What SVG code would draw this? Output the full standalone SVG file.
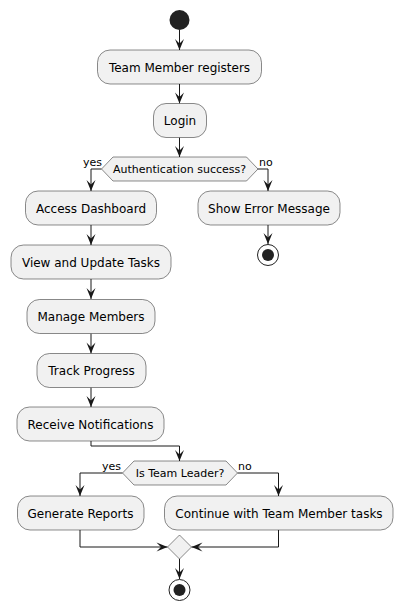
<svg xmlns="http://www.w3.org/2000/svg" width="403" height="611" viewBox="0 0 403 611">
<defs>
<style>
.box{fill:#F1F1F1;stroke:#181818;stroke-width:0.5}
.t{font-family:"DejaVu Sans",sans-serif;font-size:12px;fill:#000;text-anchor:middle}
.d{font-family:"DejaVu Sans",sans-serif;font-size:11px;fill:#000;text-anchor:middle}
.lbl{font-family:"DejaVu Sans",sans-serif;font-size:11px;fill:#000}
.c{fill:none;stroke:#181818;stroke-width:1}
</style>
<marker id="ah" markerUnits="userSpaceOnUse" markerWidth="11" markerHeight="9" refX="11" refY="4.5" orient="auto" overflow="visible">
<path d="M0,0 L11,4.5 L0,9 L4.5,4.5 Z" fill="#181818"/>
</marker>
</defs>
<rect width="403" height="611" fill="#FFFFFF"/>
<g id="connectors">
<path class="c" d="M179.5,30 V50" marker-end="url(#ah)"/>
<path class="c" d="M179.5,84 V103.5" marker-end="url(#ah)"/>
<path class="c" d="M179.5,137.5 V157" marker-end="url(#ah)"/>
<path class="c" d="M101.5,169 H91 V191" marker-end="url(#ah)"/>
<path class="c" d="M257.5,169 H268 V191" marker-end="url(#ah)"/>
<path class="c" d="M268,225 V244" marker-end="url(#ah)"/>
<path class="c" d="M91,225 V245" marker-end="url(#ah)"/>
<path class="c" d="M91,279 V299" marker-end="url(#ah)"/>
<path class="c" d="M91,333.5 V353.5" marker-end="url(#ah)"/>
<path class="c" d="M91,387.5 V407" marker-end="url(#ah)"/>
<path class="c" d="M91,441 V446 H179.5 V461" marker-end="url(#ah)"/>
<path class="c" d="M122.5,473 H80 V496" marker-end="url(#ah)"/>
<path class="c" d="M237.5,473 H278.5 V496" marker-end="url(#ah)"/>
<path class="c" d="M80,530 V547 H167.5" marker-end="url(#ah)"/>
<path class="c" d="M278.5,530 V547 H191.5" marker-end="url(#ah)"/>
<path class="c" d="M179.5,559 V579" marker-end="url(#ah)"/>
<text class="lbl" x="83" y="166">yes</text>
<text class="lbl" x="259" y="166">no</text>
<text class="lbl" x="102" y="470">yes</text>
<text class="lbl" x="238" y="470">no</text>
</g>
<g id="start"><circle cx="179.5" cy="20" r="10" fill="#222222"/></g>
<g id="n1"><rect class="box" x="97.5" y="50" width="164" height="34" rx="12.5"/><text class="t" x="179.5" y="71.5">Team Member registers</text></g>
<g id="n2"><rect class="box" x="153.5" y="103.5" width="53" height="34" rx="12.5"/><text class="t" x="180" y="125">Login</text></g>
<g id="d1"><polygon class="box" points="113,157 246.5,157 258,169 246.5,181 113,181 101.5,169"/><text class="d" x="179.5" y="173">Authentication success?</text></g>
<g id="n3"><rect class="box" x="25.5" y="191" width="131" height="34" rx="12.5"/><text class="t" x="91" y="212.5">Access Dashboard</text></g>
<g id="n4"><rect class="box" x="198" y="191" width="142" height="34" rx="12.5"/><text class="t" x="269" y="212.5">Show Error Message</text></g>
<g id="end1"><circle cx="268" cy="255" r="10.5" fill="none" stroke="#222222" stroke-width="1"/><circle cx="268" cy="255" r="6" fill="#222222"/></g>
<g id="n5"><rect class="box" x="11" y="245" width="160" height="34" rx="12.5"/><text class="t" x="91" y="266.5">View and Update Tasks</text></g>
<g id="n6"><rect class="box" x="27" y="299.5" width="128" height="34" rx="12.5"/><text class="t" x="91" y="321">Manage Members</text></g>
<g id="n7"><rect class="box" x="37" y="353.5" width="109" height="34" rx="12.5"/><text class="t" x="91.5" y="375">Track Progress</text></g>
<g id="n8"><rect class="box" x="17" y="407" width="147" height="34" rx="12.5"/><text class="t" x="90.5" y="428.5">Receive Notifications</text></g>
<g id="d2"><polygon class="box" points="134,461 226,461 237.5,473 226,485 134,485 122.5,473"/><text class="d" x="180" y="477">Is Team Leader?</text></g>
<g id="n9"><rect class="box" x="17.5" y="496" width="126.5" height="34" rx="12.5"/><text class="t" x="80.5" y="517.5">Generate Reports</text></g>
<g id="n10"><rect class="box" x="164.5" y="496" width="228.5" height="34" rx="12.5"/><text class="t" x="279" y="517.5">Continue with Team Member tasks</text></g>
<g id="merge"><polygon class="box" points="179.5,535 191.5,547 179.5,559 167.5,547"/></g>
<g id="end2"><circle cx="179.5" cy="590" r="10.5" fill="none" stroke="#222222" stroke-width="1"/><circle cx="179.5" cy="590" r="6" fill="#222222"/></g>
</svg>
